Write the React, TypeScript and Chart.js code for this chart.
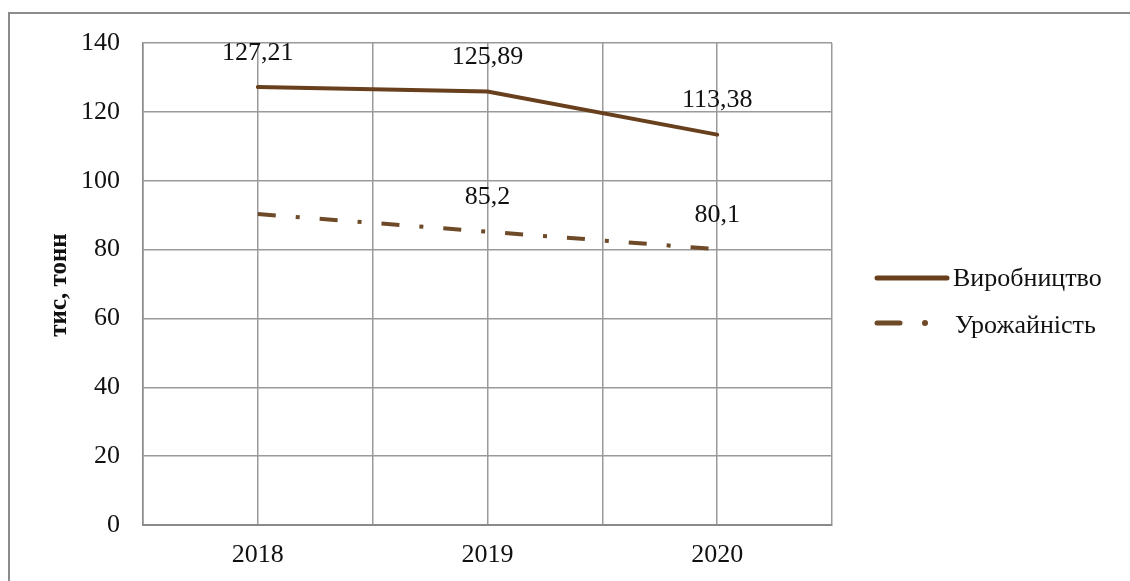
import React, { useEffect, useRef } from "react";
import { Chart, registerables } from "chart.js";

Chart.register(...registerables);

const years = [2018, 2019, 2020];
const production = [127.21, 125.89, 113.38];
const yieldValues = [90.3, 85.2, 80.1];
const productionShowLabel = [true, true, true];
const yieldShowLabel = [false, true, true];
const seriesNames = ["Виробництво", "Урожайність"];
const yTitle = "тис, тонн";

const FONT = "'Liberation Serif', 'Times New Roman', serif";
const PROD_COLOR = "#68401d";
const YIELD_COLOR = "#6e4a28";
const YIELD_DASH = [18, 20, 4, 20];
const FS = 26;

const fmt = (v: number) => String(v).replace(".", ",");

export default function App() {
  const ref = useRef<HTMLCanvasElement | null>(null);

  useEffect(() => {
    document.body.style.margin = "0";
    const canvas = ref.current;
    if (!canvas) return;

    const overlay = {
      id: "overlay",
      afterDatasetsDraw(chart: any) {
        const ctx = chart.ctx;
        ctx.save();
        ctx.font = `${FS}px ${FONT}`;
        ctx.fillStyle = "#111";
        ctx.textAlign = "center";
        ctx.textBaseline = "middle";
        const flags = [productionShowLabel, yieldShowLabel];
        chart.data.datasets.forEach((ds: any, di: number) => {
          const meta = chart.getDatasetMeta(di);
          meta.data.forEach((pt: any, i: number) => {
            if (!flags[di][i]) return;
            ctx.fillText(fmt(ds.data[i].y), pt.x, pt.y - 34);
          });
        });
        ctx.restore();
      },
      afterDraw(chart: any) {
        const ctx = chart.ctx;
        ctx.save();
        ctx.font = `bold 25px ${FONT}`;
        ctx.fillStyle = "#111";
        ctx.textAlign = "center";
        ctx.textBaseline = "middle";
        ctx.translate(60, 285);
        ctx.rotate(-Math.PI / 2);
        ctx.fillText(yTitle, 0, 0);
        ctx.restore();

        ctx.save();
        ctx.lineCap = "round";
        ctx.lineWidth = 5;
        ctx.strokeStyle = PROD_COLOR;
        ctx.beginPath();
        ctx.moveTo(877, 278);
        ctx.lineTo(947, 278);
        ctx.stroke();
        ctx.strokeStyle = YIELD_COLOR;
        ctx.beginPath();
        ctx.moveTo(877, 323);
        ctx.lineTo(900, 323);
        ctx.stroke();
        ctx.fillStyle = YIELD_COLOR;
        ctx.beginPath();
        ctx.arc(925, 323, 3, 0, Math.PI * 2);
        ctx.fill();
        ctx.font = `${FS}px ${FONT}`;
        ctx.fillStyle = "#111";
        ctx.textAlign = "left";
        ctx.textBaseline = "middle";
        ctx.fillText(seriesNames[0], 953, 279);
        ctx.fillText(seriesNames[1], 955, 326);
        ctx.restore();
      },
    };

    const chart = new Chart(canvas, {
      type: "line",
      data: {
        datasets: [
          {
            label: seriesNames[0],
            data: years.map((y, i) => ({ x: y, y: production[i] })),
            borderColor: PROD_COLOR,
            borderWidth: 4,
            borderCapStyle: "round",
            pointRadius: 0,
            tension: 0,
          },
          {
            label: seriesNames[1],
            data: years.map((y, i) => ({ x: y, y: yieldValues[i] })),
            borderColor: YIELD_COLOR,
            borderWidth: 4,
            borderDash: YIELD_DASH,
            pointRadius: 0,
            tension: 0,
          },
        ],
      },
      plugins: [overlay],
      options: {
        responsive: false,
        animation: false,
        layout: { padding: { left: 0, top: 43, right: 298, bottom: 0 } },
        plugins: {
          legend: { display: false },
          tooltip: { enabled: false },
        },
        scales: {
          x: {
            type: "linear",
            min: 2017.5,
            max: 2020.5,
            afterFit: (s: any) => {
              s.height = 56;
            },
            afterBuildTicks: (s: any) => {
              const t = [];
              for (let v = 2017.5; v <= 2020.51; v += 0.5) t.push({ value: v });
              s.ticks = t;
            },
            ticks: {
              padding: 15,
              color: "#111",
              font: { family: FONT, size: FS },
              maxRotation: 0,
              autoSkip: false,
              callback: (v: any) => (Number.isInteger(v) ? String(v) : ""),
            },
            grid: { color: "#9a9a9a", lineWidth: 1.5, drawTicks: false },
            border: { color: "#8a8a8a", width: 2 },
          },
          y: {
            min: 0,
            max: 140,
            afterFit: (s: any) => {
              s.width = 143;
            },
            ticks: {
              stepSize: 20,
              padding: 23,
              color: "#111",
              font: { family: FONT, size: FS },
            },
            grid: { color: "#9a9a9a", lineWidth: 1.5, drawTicks: false },
            border: { color: "#8a8a8a", width: 1.5 },
          },
        },
      },
    } as any);

    return () => chart.destroy();
  }, []);

  return (
    <div style={{ position: "absolute", left: 0, top: 0, width: 1130, height: 581, background: "#fff", overflow: "hidden" }}>
      <div
        style={{
          position: "absolute",
          left: 8,
          top: 12,
          width: 1200,
          height: 700,
          borderLeft: "2px solid #8c8c8c",
          borderTop: "2px solid #8c8c8c",
        }}
      />
      <canvas ref={ref} width={1130} height={581} style={{ position: "absolute", left: 0, top: 0 }} />
    </div>
  );
}
